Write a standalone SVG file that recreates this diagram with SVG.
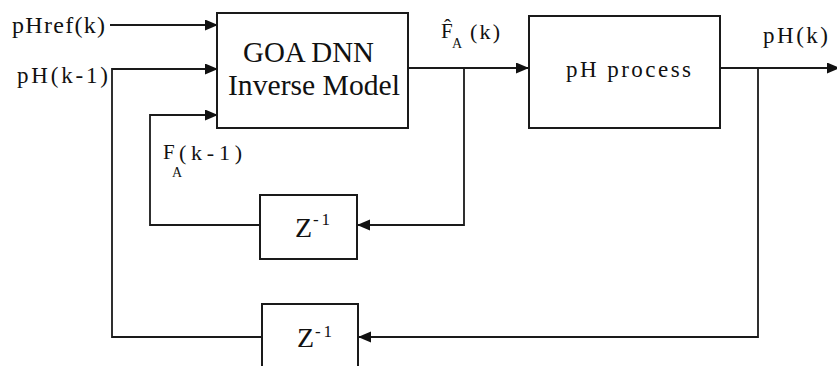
<svg xmlns="http://www.w3.org/2000/svg" width="837" height="366" viewBox="0 0 837 366">
<style>
  .box { fill: #fff; stroke: #1a1a1a; stroke-width: 2; }
  .wire { fill: none; stroke: #1a1a1a; stroke-width: 1.8; }
  .t { font-family: "Liberation Serif", "DejaVu Serif", "Times New Roman", serif; fill: #111; }
</style>
<defs>
  <marker id="arr" markerUnits="userSpaceOnUse" markerWidth="14" markerHeight="12" refX="13" refY="5.5" orient="auto">
    <path d="M0,0 L13,5.5 L0,11 z" fill="#111"/>
  </marker>
</defs>
<rect width="837" height="366" fill="#fff"/>

<g id="connectors">
  <path class="wire" d="M110,25 H218" marker-end="url(#arr)"/>
  <path class="wire" d="M262,337 H112 V69 H218" marker-end="url(#arr)"/>
  <path class="wire" d="M260,225 H150 V115 H218" marker-end="url(#arr)"/>
  <path class="wire" d="M408,68 H529" marker-end="url(#arr)"/>
  <path class="wire" d="M464,68 V225 H357" marker-end="url(#arr)"/>
  <path class="wire" d="M720,68 H840" marker-end="url(#arr)"/>
  <path class="wire" d="M758,68 V337 H358" marker-end="url(#arr)"/>
</g>

<g id="label-pHref">
  <text class="t" x="12" y="33" font-size="24" textLength="93" lengthAdjust="spacing">pHref(k)</text>
</g>
<g id="label-pHk1">
  <text class="t" x="17" y="83" font-size="23" textLength="91" lengthAdjust="spacing">pH(k-1)</text>
</g>
<g id="label-FAk1">
  <text class="t" x="163" y="159" font-size="21">F</text>
  <text class="t" x="172" y="177" font-size="14">A</text>
  <text class="t" x="179" y="160" font-size="22" textLength="63" lengthAdjust="spacing">(k-1)</text>
</g>
<g id="label-FAhat">
  <text class="t" x="441" y="38" font-size="21">F̂</text>
  <text class="t" x="452" y="48" font-size="14">A</text>
  <text class="t" x="470" y="39" font-size="22" textLength="30" lengthAdjust="spacing">(k)</text>
</g>
<g id="label-pHk">
  <text class="t" x="763" y="43" font-size="23" textLength="65" lengthAdjust="spacing">pH(k)</text>
</g>

<g id="goa-dnn">
  <rect class="box" x="217" y="13" width="191" height="115"/>
  <text class="t" x="243" y="62" font-size="29" textLength="131" lengthAdjust="spacingAndGlyphs">GOA DNN</text>
  <text class="t" x="228" y="95" font-size="29" textLength="172" lengthAdjust="spacingAndGlyphs">Inverse Model</text>
</g>

<g id="ph-process">
  <rect class="box" x="529" y="16" width="191" height="112"/>
  <text class="t" x="566" y="77" font-size="23" textLength="125" lengthAdjust="spacing">pH process</text>
</g>

<g id="delay-1">
  <rect class="box" x="260" y="195" width="97" height="64"/>
  <text class="t" x="295" y="237" font-size="28">Z</text>
  <text class="t" x="313" y="225" font-size="17" textLength="17" lengthAdjust="spacing">-1</text>
</g>

<g id="delay-2">
  <rect class="box" x="262" y="304" width="96" height="66"/>
  <text class="t" x="297" y="347" font-size="28">Z</text>
  <text class="t" x="315" y="337" font-size="17" textLength="17" lengthAdjust="spacing">-1</text>
</g>
</svg>
